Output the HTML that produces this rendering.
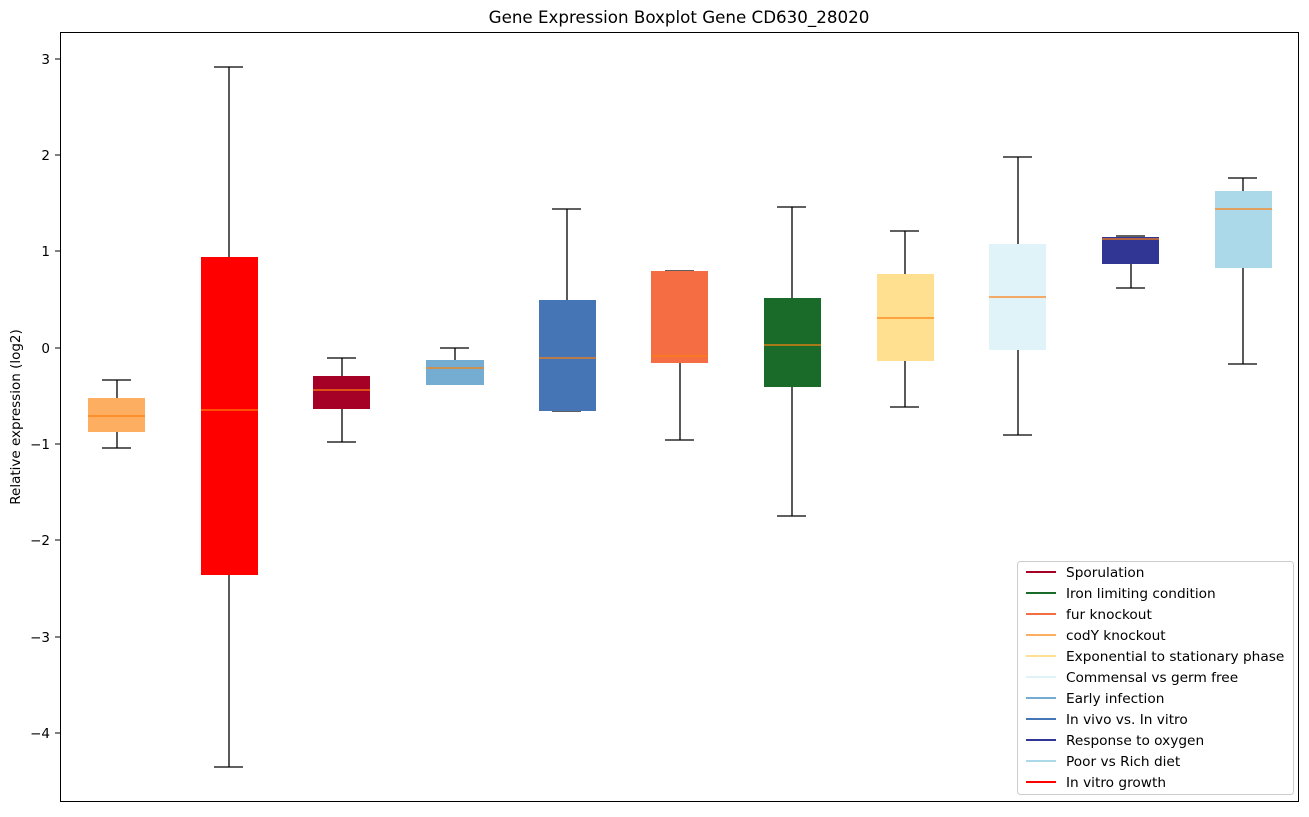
<!DOCTYPE html>
<html><head><meta charset="utf-8"><style>body{margin:0;background:#fff}</style></head><body>
<svg width="1309" height="812" xmlns="http://www.w3.org/2000/svg" font-family="DejaVu Sans, Liberation Sans, sans-serif">
<rect width="1309" height="812" fill="#fff"/>
<text x="679" y="23" font-size="16.7" text-anchor="middle">Gene Expression Boxplot Gene CD630_28020</text>
<g stroke="#000" stroke-width="1.3" fill="none">
<path d="M117 380V398M117 432V448M102 380H131M102 448H131"/>
<path d="M229 67V257M229 575V767M214 67H243M214 767H243"/>
<path d="M342 358V376M342 409V442M327 358H356M327 442H356"/>
<path d="M455 348V360M440 348H469M440 384H469"/>
<path d="M567 209V300M552 209H581M552 411H581"/>
<path d="M680 363V440M665 271H694M665 440H694"/>
<path d="M792 207V298M792 387V516M777 207H806M777 516H806"/>
<path d="M905 231V274M905 361V407M890 231H919M890 407H919"/>
<path d="M1018 157V244M1018 350V435M1003 157H1032M1003 435H1032"/>
<path d="M1131 264V288M1116 236H1145M1116 288H1145"/>
<path d="M1243 178V191M1243 268V364M1228 178H1257M1228 364H1257"/>
</g>
<g>
<rect x="88" y="398" width="57" height="34" fill="#fdae61"/>
<rect x="201" y="257" width="57" height="318" fill="#ff0000"/>
<rect x="313" y="376" width="57" height="33" fill="#a50026"/>
<rect x="426" y="360" width="58" height="25" fill="#74add1"/>
<rect x="539" y="300" width="57" height="111" fill="#4575b4"/>
<rect x="651" y="271" width="57" height="92" fill="#f46d43"/>
<rect x="764" y="298" width="57" height="89" fill="#1a6b2a"/>
<rect x="877" y="274" width="57" height="87" fill="#fee090"/>
<rect x="989" y="244" width="57" height="106" fill="#e0f3f8"/>
<rect x="1102" y="237" width="57" height="27" fill="#313695"/>
<rect x="1215" y="191" width="57" height="77" fill="#abd9e9"/>
</g>
<g stroke="#ff7f0e" stroke-width="1.3">
<path d="M88 416H145M201 410H258M313 390H370M426 368H484M539 358H596M651 356H708M764 345H821M877 318H934M989 297H1046M1102 239H1159M1215 209H1272"/>
</g>
<rect x="60.5" y="32.5" width="1238" height="769" fill="none" stroke="#000" stroke-width="1"/>
<g stroke="#000"><path d="M55 59H60M55 155H60M55 251H60M55 348H60M55 444H60M55 540H60M55 637H60M55 733H60"/></g>
<g font-size="13.5" text-anchor="end">
<text x="50" y="64">3</text><text x="50" y="160">2</text><text x="50" y="256">1</text><text x="50" y="353">0</text>
<text x="50" y="449">−1</text><text x="50" y="545">−2</text><text x="50" y="642">−3</text><text x="50" y="738">−4</text>
</g>
<text transform="translate(20,417) rotate(-90)" font-size="13.5" text-anchor="middle">Relative expression (log2)</text>
<rect x="1017.5" y="561.5" width="276" height="233" rx="3" fill="#fff" fill-opacity="0.8" stroke="#ccc"/>
<g stroke-width="2">
<path d="M1026 572H1056" stroke="#a50026"/><path d="M1026 593H1056" stroke="#1a6b2a"/>
<path d="M1026 614H1056" stroke="#f46d43"/><path d="M1026 635H1056" stroke="#fdae61"/>
<path d="M1026 656H1056" stroke="#fee090"/><path d="M1026 677H1056" stroke="#e0f3f8"/>
<path d="M1026 698H1056" stroke="#74add1"/><path d="M1026 719H1056" stroke="#4575b4"/>
<path d="M1026 740H1056" stroke="#313695"/><path d="M1026 761H1056" stroke="#abd9e9"/>
<path d="M1026 782H1056" stroke="#ff0000"/>
</g>
<g font-size="13.7">
<text x="1066" y="577">Sporulation</text><text x="1066" y="598">Iron limiting condition</text>
<text x="1066" y="619">fur knockout</text><text x="1066" y="640">codY knockout</text>
<text x="1066" y="661">Exponential to stationary phase</text><text x="1066" y="682">Commensal vs germ free</text>
<text x="1066" y="703">Early infection</text><text x="1066" y="724">In vivo vs. In vitro</text>
<text x="1066" y="745">Response to oxygen</text><text x="1066" y="766">Poor vs Rich diet</text>
<text x="1066" y="787">In vitro growth</text>
</g>
</svg>
</body></html>
